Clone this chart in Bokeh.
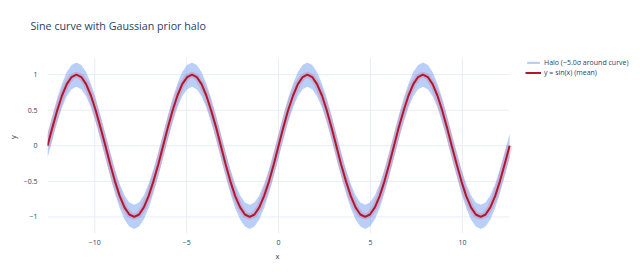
from bokeh.plotting import figure
from bokeh.models import Legend, LegendItem, ColumnDataSource, FixedTicker, Range1d, Title
from bokeh.embed import file_html
from bokeh.resources import INLINE

# x positions (steps of pi/12 from -4pi to 4pi)
x_vals = [-12.57, -12.30, -12.04, -11.78, -11.52, -11.26, -11.00, -10.73, -10.47, -10.21, -9.95, -9.69,
          -9.42, -9.16, -8.90, -8.64, -8.38, -8.12, -7.85, -7.59, -7.33, -7.07, -6.81, -6.54,
          -6.28, -6.02, -5.76, -5.50, -5.24, -4.97, -4.71, -4.45, -4.19, -3.93, -3.67, -3.40,
          -3.14, -2.88, -2.62, -2.36, -2.09, -1.83, -1.57, -1.31, -1.05, -0.79, -0.52, -0.26,
          0.00, 0.26, 0.52, 0.79, 1.05, 1.31, 1.57, 1.83, 2.09, 2.36, 2.62, 2.88,
          3.14, 3.40, 3.67, 3.93, 4.19, 4.45, 4.71, 4.97, 5.24, 5.50, 5.76, 6.02,
          6.28, 6.54, 6.81, 7.07, 7.33, 7.59, 7.85, 8.12, 8.38, 8.64, 8.90, 9.16,
          9.42, 9.69, 9.95, 10.21, 10.47, 10.73, 11.00, 11.26, 11.52, 11.78, 12.04, 12.30,
          12.57]

# mean curve y = sin(x)
y_mean = [0.0, 0.259, 0.5, 0.707, 0.866, 0.966, 1.0, 0.966, 0.866, 0.707, 0.5, 0.259,
          0.0, -0.259, -0.5, -0.707, -0.866, -0.966, -1.0, -0.966, -0.866, -0.707, -0.5, -0.259,
          0.0, 0.259, 0.5, 0.707, 0.866, 0.966, 1.0, 0.966, 0.866, 0.707, 0.5, 0.259,
          0.0, -0.259, -0.5, -0.707, -0.866, -0.966, -1.0, -0.966, -0.866, -0.707, -0.5, -0.259,
          0.0, 0.259, 0.5, 0.707, 0.866, 0.966, 1.0, 0.966, 0.866, 0.707, 0.5, 0.259,
          0.0, -0.259, -0.5, -0.707, -0.866, -0.966, -1.0, -0.966, -0.866, -0.707, -0.5, -0.259,
          0.0, 0.259, 0.5, 0.707, 0.866, 0.966, 1.0, 0.966, 0.866, 0.707, 0.5, 0.259,
          0.0, -0.259, -0.5, -0.707, -0.866, -0.966, -1.0, -0.966, -0.866, -0.707, -0.5, -0.259,
          0.0]

halo_half_width = 0.17  # vertical half-width of the halo band

x_ticks = [-10, -5, 0, 5, 10]
y_ticks = [-1, -0.5, 0, 0.5, 1]
y_tick_labels = {-1: "−1", -0.5: "−0.5", 0: "0", 0.5: "0.5", 1: "1"}
x_tick_labels = {-10: "−10", -5: "−5", 0: "0", 5: "5", 10: "10"}

title_text = "Sine curve with Gaussian prior halo"
x_title = "x"
y_title = "y"
halo_label = "Halo (~5.0σ around curve)"
mean_label = "y = sin(x) (mean)"

lower = [v - halo_half_width for v in y_mean]
upper = [v + halo_half_width for v in y_mean]
src = ColumnDataSource(dict(x=x_vals, y=y_mean, lo=lower, hi=upper))

FONT = "Open Sans"
TXT = "#2a3f5f"
GRID = "#e8edf4"
X_LO, X_HI = -12.57, 12.57
Y_LO, Y_HI = -1.233, 1.233

# the frame runs to the right edge so that the legend can sit inside it
p = figure(width=640, height=280, output_backend="svg", toolbar_location=None,
           x_range=Range1d(X_LO, 19.69), y_range=Range1d(Y_LO, 1.48),
           min_border_left=47, min_border_right=0, min_border_top=40, min_border_bottom=47)
p.outline_line_color = None
p.background_fill_color = "white"
p.border_fill_color = "white"

p.title.text = title_text
p.title.align = "left"
p.title.offset = -17
p.title.standoff = 15
p.title.text_font = FONT
p.title.text_font_size = "10.7px"
p.title.text_font_style = "normal"
p.title.text_color = TXT

for ax in (p.xaxis[0], p.yaxis[0]):
    ax.axis_line_color = None
    ax.major_tick_line_color = None
    ax.minor_tick_line_color = None
    ax.major_label_text_font = FONT
    ax.major_label_text_font_size = "7px"
    ax.major_label_text_color = TXT
    ax.axis_label_text_font = FONT
    ax.axis_label_text_font_size = "7.5px"
    ax.axis_label_text_font_style = "normal"
    ax.axis_label_text_color = TXT

p.xaxis.ticker = FixedTicker(ticks=x_ticks)
p.yaxis.ticker = FixedTicker(ticks=y_ticks)
p.xaxis.major_label_overrides = x_tick_labels
p.yaxis.major_label_overrides = y_tick_labels
p.yaxis.axis_label = y_title
p.xaxis.major_label_standoff = 0
p.yaxis.major_label_standoff = 4
p.yaxis.axis_label_standoff = 3

p.add_layout(Title(text=x_title, align="left", offset=228, standoff=2,
                   text_font=FONT, text_font_size="7.5px", text_font_style="normal",
                   text_color=TXT), "below")

# grid lines limited to the data area
p.xgrid.visible = False
p.ygrid.visible = False
p.segment(x0=X_LO, x1=X_HI, y0=y_ticks, y1=y_ticks, line_color=GRID, line_width=1)
p.segment(x0=x_ticks, x1=x_ticks, y0=Y_LO, y1=Y_HI, line_color=GRID, line_width=1)

band = p.varea(x="x", y1="lo", y2="hi", source=src, fill_color="#6495ed", fill_alpha=0.45)
glow = p.line(x="x", y="y", source=src, line_color="#d62b5a", line_width=6, line_alpha=0.18)
mean = p.line(x="x", y="y", source=src, line_color="#b2182b", line_width=2)

legend = Legend(items=[LegendItem(label=halo_label, renderers=[band]),
                       LegendItem(label=mean_label, renderers=[mean])],
                location=(478, 156), padding=0, spacing=0, margin=0,
                glyph_width=16, glyph_height=3, label_height=10, label_standoff=3,
                label_text_font=FONT, label_text_font_size="7px", label_text_color=TXT,
                border_line_color=None, background_fill_alpha=0)
p.add_layout(legend, "center")

open("out.html", "w").write(file_html(p, INLINE))
